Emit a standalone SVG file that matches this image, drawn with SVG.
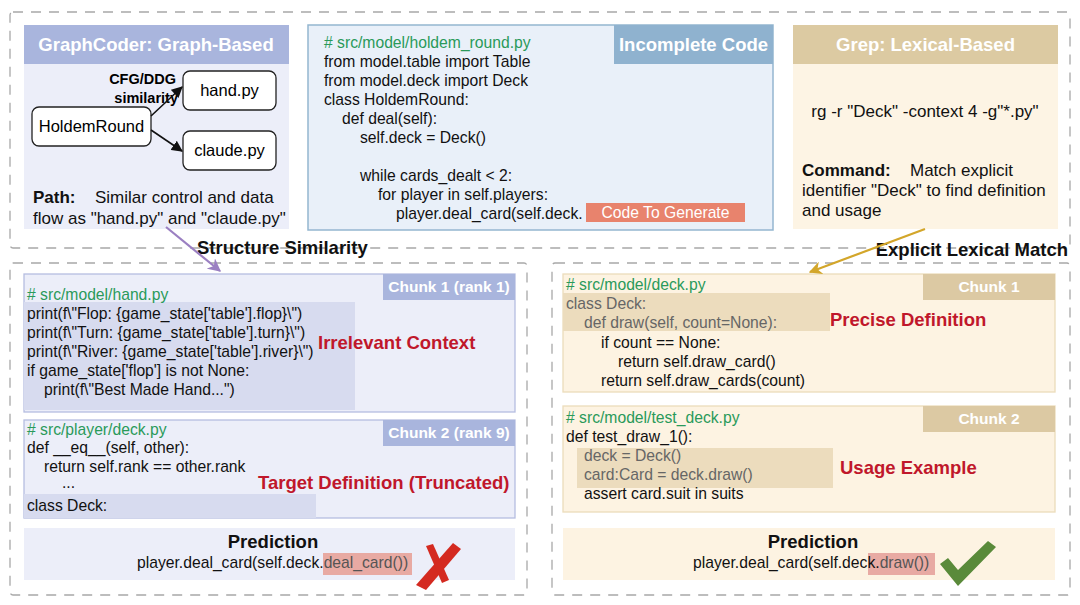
<svg xmlns="http://www.w3.org/2000/svg" width="1080" height="605" viewBox="0 0 1080 605">
<defs>
<style>
text{font-family:"Liberation Sans",Arial,sans-serif;}
.code{font-size:15.7px;fill:#111;}
.cm{font-size:15.7px;fill:#2a9a5a;}
.gray{font-size:15.7px;fill:#666;}
.hdr{font-size:18.5px;font-weight:bold;fill:#fff;text-anchor:middle;}
.chk{font-size:15.5px;font-weight:bold;fill:#fff;text-anchor:middle;}
.red{font-size:18.5px;font-weight:bold;fill:#c0172b;}
.lbl{font-size:18.5px;font-weight:bold;fill:#111;}
.body{font-size:17px;fill:#111;}
.dash{fill:none;stroke:#a8a8a8;stroke-width:1.3;stroke-dasharray:10 8;}
.node{fill:#fff;stroke:#222;stroke-width:1.3;}
.lavC{fill:#eceef9;stroke:#b6bde0;stroke-width:1.3;}
.tanC{fill:#fdf3e2;stroke:#ecdcbb;stroke-width:1.3;}
</style>
<marker id="ab" viewBox="0 0 10 10" refX="9" refY="5" markerWidth="7" markerHeight="7" orient="auto-start-reverse"><path d="M0,0 L10,5 L0,10 z" fill="#111"/></marker>
<marker id="ap" viewBox="0 0 10 10" refX="9" refY="5" markerWidth="6" markerHeight="6" orient="auto"><path d="M0,0 L10,5 L0,10 L3,5 z" fill="#9b80c2"/></marker>
<marker id="ag" viewBox="0 0 10 10" refX="9" refY="5" markerWidth="6" markerHeight="6" orient="auto"><path d="M0,0 L10,5 L0,10 L3,5 z" fill="#d3a62a"/></marker>
</defs>
<rect width="1080" height="605" fill="#fff"/>

<!-- dashed frames -->
<rect class="dash" x="10" y="12" width="1060" height="236" rx="3"/>
<rect class="dash" x="10" y="263" width="517" height="332" rx="3"/>
<rect class="dash" x="552" y="263" width="518" height="332" rx="3"/>

<!-- GraphCoder panel -->
<g id="graphcoder">
<rect x="24" y="25" width="265" height="204" fill="#eceef9"/>
<rect x="24" y="25" width="265" height="39" fill="#a9b5dd"/>
<text class="hdr" x="156" y="51">GraphCoder: Graph-Based</text>
<text x="176" y="84" font-size="14.5" font-weight="bold" text-anchor="end">CFG/DDG</text>
<text x="178" y="103" font-size="14.5" font-weight="bold" text-anchor="end">similarity</text>
<text class="body" x="33" y="203"><tspan font-weight="bold">Path:</tspan></text>
<text class="body" x="95" y="203">Similar control and data</text>
<text class="body" x="33" y="224">flow as "hand.py" and "claude.py"</text>
</g>
<g id="node-holdemround">
<rect class="node" x="32" y="107" width="119" height="39" rx="7"/>
<text x="91.5" y="132" font-size="16.5" text-anchor="middle">HoldemRound</text>
</g>
<g id="node-hand">
<rect class="node" x="183" y="71" width="93" height="39" rx="7"/>
<text x="229.5" y="96" font-size="16.5" text-anchor="middle">hand.py</text>
</g>
<g id="node-claude">
<rect class="node" x="183" y="131" width="93" height="39" rx="7"/>
<text x="229.5" y="156" font-size="16.5" text-anchor="middle">claude.py</text>
</g>

<!-- Incomplete code panel -->
<g id="incomplete-code">
<rect x="308" y="25" width="465" height="205" fill="#e9f0f9" stroke="#94b6d0" stroke-width="1.5"/>
<rect x="614" y="25" width="159" height="39" fill="#8fb2cf"/>
<text class="hdr" x="693.5" y="51">Incomplete Code</text>
<text class="cm" x="324" y="48"># src/model/holdem_round.py</text>
<text class="code" x="324" y="67">from model.table import Table</text>
<text class="code" x="324" y="86">from model.deck import Deck</text>
<text class="code" x="324" y="105">class HoldemRound:</text>
<text class="code" x="342" y="124">def deal(self):</text>
<text class="code" x="360" y="143">self.deck = Deck()</text>
<text class="code" x="360" y="181">while cards_dealt &lt; 2:</text>
<text class="code" x="378" y="200">for player in self.players:</text>
<text class="code" x="396" y="219">player.deal_card(self.deck.</text>
<rect x="586" y="203" width="159" height="19" fill="#e8836d"/>
<text x="665.5" y="218" font-size="15.7" fill="#fff" text-anchor="middle">Code To Generate</text>
</g>

<!-- Grep panel -->
<g id="grep">
<rect x="793" y="25" width="265" height="204" fill="#fdf4e4"/>
<rect x="793" y="25" width="265" height="39" fill="#dccaa2"/>
<text class="hdr" x="925.5" y="51">Grep: Lexical-Based</text>
<text class="body" x="925" y="117" text-anchor="middle" font-size="17.5">rg -r "Deck" -context 4 -g"*.py"</text>
<text class="body" x="802" y="176" font-weight="bold">Command:</text>
<text class="body" x="910" y="176">Match explicit</text>
<text class="body" x="802" y="196">identifier "Deck" to find definition</text>
<text class="body" x="802" y="216">and usage</text>
</g>

<!-- section labels -->
<text class="lbl" x="197" y="254">Structure Similarity</text>
<text class="lbl" x="1068" y="256" text-anchor="end">Explicit Lexical Match</text>

<!-- Left chunk 1 -->
<g id="left-chunk1">
<rect class="lavC" x="24" y="274" width="491" height="138"/>
<rect x="383" y="274" width="132" height="26" fill="#a9b5dd"/>
<text class="chk" x="449" y="292">Chunk 1 (rank 1)</text>
<rect x="24" y="302" width="331" height="108" fill="#d7dbef"/>
<text class="cm" x="27" y="300"># src/model/hand.py</text>
<text class="code" x="27" y="319">print(f\"Flop: {game_state['table'].flop}\")</text>
<text class="code" x="27" y="338">print(f\"Turn: {game_state['table'].turn}\")</text>
<text class="code" x="27" y="357">print(f\"River: {game_state['table'].river}\")</text>
<text class="code" x="27" y="376">if game_state['flop'] is not None:</text>
<text class="code" x="44" y="395">print(f\"Best Made Hand...")</text>
<text class="red" x="318" y="349">Irrelevant Context</text>
</g>

<!-- Left chunk 2 -->
<g id="left-chunk2">
<rect class="lavC" x="24" y="420" width="491" height="98"/>
<rect x="383" y="420" width="132" height="26" fill="#a9b5dd"/>
<text class="chk" x="449" y="438">Chunk 2 (rank 9)</text>
<rect x="24" y="494" width="292" height="24" fill="#d7dbef"/>
<text class="cm" x="27" y="435"># src/player/deck.py</text>
<text class="code" x="27" y="453">def __eq__(self, other):</text>
<text class="code" x="44" y="472">return self.rank == other.rank</text>
<text class="code" x="62" y="488">...</text>
<text class="code" x="27" y="511" fill="#444">class Deck:</text>
<text class="red" x="258" y="489">Target Definition (Truncated)</text>
</g>

<!-- Left prediction -->
<g id="left-prediction">
<rect x="24" y="528" width="491" height="52" fill="#eceef9"/>
<rect x="323" y="553" width="89" height="22" fill="#e8aaa3"/>
<text class="lbl" x="273" y="548" text-anchor="middle">Prediction</text>
<text class="code" x="137" y="568">player.deal_card(self.deck.<tspan fill="#555">deal_card())</tspan></text>
<path d="M453,543 L461,549 L426,590 L416,585 Z" fill="#d42a20"/>
<path d="M426,546 L433,544 L449,580 L442,583 Z" fill="#d42a20"/>
</g>

<!-- Right chunk 1 -->
<g id="right-chunk1">
<rect class="tanC" x="563" y="274" width="492" height="118"/>
<rect x="923" y="274" width="132" height="26" fill="#dcc9a3"/>
<text class="chk" x="989" y="292">Chunk 1</text>
<rect x="563" y="293" width="267" height="38" fill="#ecdcbd"/>
<text class="cm" x="566" y="290"># src/model/deck.py</text>
<text class="gray" x="566" y="309">class Deck:</text>
<text class="gray" x="584" y="328">def draw(self, count=None):</text>
<text class="code" x="601" y="348">if count == None:</text>
<text class="code" x="618" y="367">return self.draw_card()</text>
<text class="code" x="601" y="386">return self.draw_cards(count)</text>
<text class="red" x="830" y="326">Precise Definition</text>
</g>

<!-- Right chunk 2 -->
<g id="right-chunk2">
<rect class="tanC" x="563" y="406" width="492" height="106"/>
<rect x="923" y="406" width="132" height="26" fill="#dcc9a3"/>
<text class="chk" x="989" y="424">Chunk 2</text>
<rect x="577" y="448" width="256" height="40" fill="#ecdcbd"/>
<text class="cm" x="566" y="423"># src/model/test_deck.py</text>
<text class="code" x="566" y="442">def test_draw_1():</text>
<text class="gray" x="584" y="461">deck = Deck()</text>
<text class="gray" x="584" y="480">card:Card = deck.draw()</text>
<text class="code" x="584" y="499">assert card.suit in suits</text>
<text class="red" x="840" y="474">Usage Example</text>
</g>

<!-- Right prediction -->
<g id="right-prediction">
<rect x="563" y="528" width="492" height="52" fill="#fdf3e2"/>
<rect x="868" y="553" width="67" height="22" fill="#e8aaa3"/>
<text class="lbl" x="813" y="548" text-anchor="middle">Prediction</text>
<text class="code" x="693" y="568">player.deal_card(self.deck.<tspan fill="#555">draw())</tspan></text>
<path d="M940,564 L948,558 L958,570 L988,541 L996,547 L958,586 Z" fill="#5a8a3a"/>
</g>

<!-- connectors -->
<g id="connectors">
<line x1="151" y1="116" x2="182" y2="87" stroke="#111" stroke-width="1.6" marker-end="url(#ab)"/>
<line x1="151" y1="130" x2="182" y2="151" stroke="#111" stroke-width="1.6" marker-end="url(#ab)"/>
<line x1="166" y1="227" x2="220" y2="271" stroke="#9b80c2" stroke-width="2.2" marker-end="url(#ap)"/>
<line x1="925" y1="229" x2="810" y2="272" stroke="#d3a62a" stroke-width="2.2" marker-end="url(#ag)"/>
</g>
</svg>
